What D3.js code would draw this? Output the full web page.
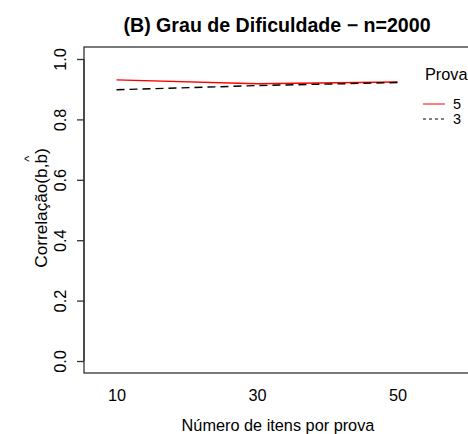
<!DOCTYPE html>
<html><head><meta charset="utf-8">
<script src="https://cdn.jsdelivr.net/npm/d3@7"></script>
<style>body{margin:0;background:#fff}svg{display:block;font-family:"Liberation Sans",Arial,sans-serif}</style>
</head><body>
<svg id="c" width="468" height="434"></svg>
<script>
const items = [10, 30, 50];
const prova5 = [0.931, 0.918, 0.924];
const prova3 = [0.898, 0.912, 0.922];
const yTicks = [0.0, 0.2, 0.4, 0.6, 0.8, 1.0];
const legendLabels = ["5", "3"];

const FS = 16.3;
const svg = d3.select("#c");
const L = 84, R = 470, T = 47, B = 373;
const x = d3.scaleLinear().domain([10, 50]).range([116.5, 397.5]);
const y = d3.scaleLinear().domain([0, 1]).range([361, 59]);

// frame
svg.append("rect").attr("x", L).attr("y", T).attr("width", R - L).attr("height", B - T)
  .attr("fill", "none").attr("stroke", "#333").attr("stroke-width", 1.3);

// y axis
const yAxis = svg.append("g").attr("transform", `translate(${L},0)`)
  .call(d3.axisLeft(y).tickValues(yTicks).tickFormat(d3.format(".1f")).tickSizeOuter(0).tickSize(7));
yAxis.select(".domain").attr("d", `M0,${y(0)}V${y(1)}`).attr("stroke", "#333").attr("stroke-width", 1.3);
yAxis.selectAll(".tick line").attr("stroke", "#333").attr("stroke-width", 1.3);
yAxis.selectAll(".tick text").attr("font-size", FS).attr("fill", "#000")
  .attr("x", 0).attr("dy", 0).attr("text-anchor", "middle")
  .attr("transform", "translate(-18,0) rotate(-90)");

// x tick labels (no tick marks)
const xAxis = svg.append("g").attr("transform", `translate(0,${B})`)
  .call(d3.axisBottom(x).tickValues(items).tickSize(0).tickPadding(0));
xAxis.select(".domain").remove();
xAxis.selectAll(".tick text").attr("font-size", FS).attr("fill", "#000").attr("dy", 0).attr("y", 28);

// lines
const line = d3.line().x((d, i) => x(items[i])).y(d => y(d));
svg.append("path").datum(prova5).attr("d", line).attr("fill", "none")
  .attr("stroke", "#ff0000").attr("stroke-width", 1.4);
svg.append("path").datum(prova3).attr("d", line).attr("fill", "none")
  .attr("stroke", "#000").attr("stroke-width", 1.4).attr("stroke-dasharray", "8,5");

// title
svg.append("text").attr("x", 277).attr("y", 32).attr("text-anchor", "middle")
  .attr("font-size", 19.6).attr("font-weight", "bold").text("(B) Grau de Dificuldade \u2212 n=2000");

// x label
svg.append("text").attr("x", 278).attr("y", 431).attr("text-anchor", "middle")
  .attr("font-size", FS).text("Número de itens por prova");

// y label
const yl = svg.append("g").attr("transform", `translate(47,208) rotate(-90)`);
const ylt = yl.append("text").attr("text-anchor", "middle").attr("font-size", 17.2);
ylt.append("tspan").text("Correlação(b,");
ylt.append("tspan").text("b");
ylt.append("tspan").text(")");
const full = ylt.node().getComputedTextLength();
const pre = ylt.node().getSubStringLength(0, 13);
const bw = ylt.node().getSubStringLength(13, 1);
const hx = -full / 2 + pre + bw / 2;
yl.append("text").attr("x", hx).attr("y", -14).attr("text-anchor", "middle").attr("font-size", 13).text("^");

// legend
svg.append("text").attr("x", 425).attr("y", 80).attr("font-size", FS).text("Prova");
const lg = svg.append("g");
const styles = [{c: "#ff0000", d: null}, {c: "#000", d: "3,3"}];
legendLabels.forEach((lab, i) => {
  const yy = 104 + i * 15;
  lg.append("line").attr("x1", 423).attr("x2", 445).attr("y1", yy).attr("y2", yy)
    .attr("stroke", styles[i].c).attr("stroke-width", 1).attr("stroke-dasharray", styles[i].d);
  lg.append("text").attr("x", 453).attr("y", yy + 5).attr("font-size", 14.5).text(lab);
});
</script>
</body></html>
